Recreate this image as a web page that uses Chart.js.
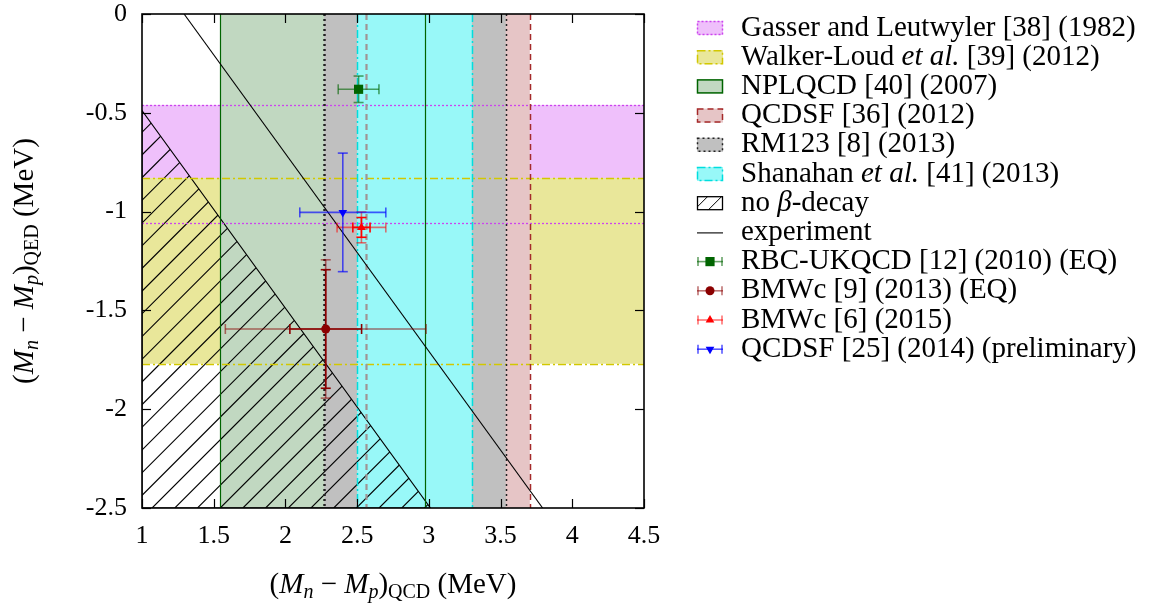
<!DOCTYPE html>
<html>
<head>
<meta charset="utf-8">
<script src="https://cdn.jsdelivr.net/npm/chart.js@4.4.1/dist/chart.umd.min.js"></script>
<style>
  html, body { margin: 0; padding: 0; background: #fff; }
  #wrap { width: 1152px; height: 606px; }
</style>
</head>
<body>
<div id="wrap"><canvas id="plot" width="1152" height="606"></canvas></div>
<script>
// axis ticks
const xTicks = [1, 1.5, 2, 2.5, 3, 3.5, 4, 4.5];
const yTicks = [0, -0.5, -1, -1.5, -2, -2.5];

// horizontal bands, (Mn-Mp)_QED  [top, bottom]
const gasserBand = [-0.46, -1.06];
const walkerBand = [-0.83, -1.77];

// vertical bands, (Mn-Mp)_QCD  [left, right]
const nplqcdBand = [1.546, 2.976];
const qcdsf12Band = [2.562, 3.704];
const rm123Band = [2.27, 3.536];
const shanahanBand = [2.50, 3.30];

// diagonal lines x + y = const
const betaLimit = 0.511;   // below: no beta decay
const expValue = 1.2933;   // experiment

// points: [x, y], errors: [stat, total]
const rbcPoint = [2.51, -0.381];
const rbcXErr = [0.142];
const rbcYErr = [0.067];

const bmw13Point = [2.281, -1.594];
const bmw13XErr = [0.25, 0.70];
const bmw13YErr = [0.30, 0.35];

const bmw15Point = [2.53, -1.08];
const bmw15XErr = [0.06, 0.17];
const bmw15YErr = [0.05, 0.078];

const qcdsf14Point = [2.40, -1.004];
const qcdsf14XErr = [0.30];
const qcdsf14YErr = [0.30];

const legendLabels = [
  [['Gasser and Leutwyler [38] (1982)']],
  [['Walker-Loud '], ['et al.', 1], [' [39] (2012)']],
  [['NPLQCD [40] (2007)']],
  [['QCDSF [36] (2012)']],
  [['RM123 [8] (2013)']],
  [['Shanahan '], ['et al.', 1], [' [41] (2013)']],
  [['no '], ['\u03B2', 1], ['-decay']],
  [['experiment']],
  [['RBC-UKQCD [12] (2010) (EQ)']],
  [['BMWc [9] (2013) (EQ)']],
  [['BMWc [6] (2015)']],
  [['QCDSF [25] (2014) (preliminary)']]
];

const FONT = '"Liberation Serif", "Times New Roman", serif';

const bands = [
  { r: gasserBand, dir: 'h', fill: '#efc0fb', line: '#cc44ee', dash: [2, 2], w: 1.3 },
  { r: walkerBand, dir: 'h', fill: '#e9e79a', line: '#d2c800', dash: [8, 3, 2, 3], w: 1.5 },
  { r: nplqcdBand, dir: 'v', fill: '#c1d8c1', line: '#006400', dash: [], w: 1.2 },
  { r: qcdsf12Band, dir: 'v', fill: '#e6c5c6', line: ['#a09494', '#a52a2a'], dash: [6, 4], w: [2.2, 1.5] },
  { r: rm123Band, dir: 'v', fill: '#c0c0c0', line: '#222', dash: [2, 3], w: [2.5, 1.5] },
  { r: shanahanBand, dir: 'v', fill: '#98f8f8', line: '#00dede', dash: [8, 3, 2, 3], w: 1.5 }
];

const points = [
  { p: rbcPoint, xe: rbcXErr, ye: rbcYErr, color: '#006400', light: 'rgba(0,100,0,0.6)' },
  { p: bmw13Point, xe: bmw13XErr, ye: bmw13YErr, color: '#8b0000', light: 'rgba(139,0,0,0.55)' },
  { p: bmw15Point, xe: bmw15XErr, ye: bmw15YErr, color: '#ff0000', light: 'rgba(255,0,0,0.55)' },
  { p: qcdsf14Point, xe: qcdsf14XErr, ye: qcdsf14YErr, color: '#0000ff', light: 'rgba(0,0,255,0.65)' }
];

function hLine(ctx, x1, x2, y) { ctx.beginPath(); ctx.moveTo(x1, y); ctx.lineTo(x2, y); ctx.stroke(); }
function vLine(ctx, x, y1, y2) { ctx.beginPath(); ctx.moveTo(x, y1); ctx.lineTo(x, y2); ctx.stroke(); }

function drawErrors(ctx, xs, ys, pt) {
  const cx = xs.getPixelForValue(pt.p[0]);
  const cy = ys.getPixelForValue(pt.p[1]);
  const cap = 5;
  ctx.setLineDash([]);
  ctx.lineWidth = 1.6;
  // total (lighter) first, then stat on top
  const order = pt.xe.length > 1 ? [1, 0] : [0];
  order.forEach(i => {
    ctx.strokeStyle = (pt.xe.length > 1 && i === 0) ? pt.color : pt.light;
    const xl = xs.getPixelForValue(pt.p[0] - pt.xe[i]);
    const xr = xs.getPixelForValue(pt.p[0] + pt.xe[i]);
    const yt = ys.getPixelForValue(pt.p[1] + pt.ye[i]);
    const yb = ys.getPixelForValue(pt.p[1] - pt.ye[i]);
    hLine(ctx, xl, xr, cy);
    vLine(ctx, cx, yt, yb);
    vLine(ctx, xl, cy - cap, cy + cap);
    vLine(ctx, xr, cy - cap, cy + cap);
    hLine(ctx, cx - cap, cx + cap, yt);
    hLine(ctx, cx - cap, cx + cap, yb);
  });
}

const bgPlugin = {
  id: 'bg',
  beforeDatasetsDraw(chart) {
    const ctx = chart.ctx;
    const a = chart.chartArea;
    const xs = chart.scales.x, ys = chart.scales.y;
    ctx.save();
    ctx.beginPath();
    ctx.rect(a.left, a.top, a.right - a.left, a.bottom - a.top);
    ctx.clip();

    // fills
    bands.forEach(b => {
      ctx.fillStyle = b.fill;
      if (b.dir === 'h') {
        const y1 = ys.getPixelForValue(b.r[0]), y2 = ys.getPixelForValue(b.r[1]);
        ctx.fillRect(a.left, y1, a.right - a.left, y2 - y1);
      } else {
        const x1 = xs.getPixelForValue(b.r[0]), x2 = xs.getPixelForValue(b.r[1]);
        ctx.fillRect(x1, a.top, x2 - x1, a.bottom - a.top);
      }
    });

    // hatched no-beta-decay region
    ctx.save();
    ctx.beginPath();
    ctx.moveTo(xs.getPixelForValue(1), ys.getPixelForValue(betaLimit - 1));
    ctx.lineTo(xs.getPixelForValue(betaLimit + 2.5), ys.getPixelForValue(-2.5));
    ctx.lineTo(xs.getPixelForValue(1), ys.getPixelForValue(-2.5));
    ctx.closePath();
    ctx.strokeStyle = '#000';
    ctx.lineWidth = 1.1;
    ctx.stroke();
    ctx.clip();
    const H = a.bottom - a.top;
    for (let x0 = a.left + 4.7 - H; x0 < a.right; x0 += 22.7) {
      ctx.beginPath();
      ctx.moveTo(x0, a.bottom);
      ctx.lineTo(x0 + H, a.top);
      ctx.stroke();
    }
    ctx.restore();

    // band borders
    bands.forEach(b => {
      ctx.setLineDash(b.dash);
      [0, 1].forEach(i => {
        ctx.strokeStyle = Array.isArray(b.line) ? b.line[i] : b.line;
        ctx.lineWidth = Array.isArray(b.w) ? b.w[i] : b.w;
        if (b.dir === 'h') {
          hLine(ctx, a.left, a.right, Math.round(ys.getPixelForValue(b.r[i])) + 0.5);
        } else {
          vLine(ctx, Math.round(xs.getPixelForValue(b.r[i])) + 0.5, a.top, a.bottom);
        }
      });
    });
    ctx.setLineDash([]);

    // experiment line
    ctx.strokeStyle = '#000';
    ctx.lineWidth = 1.1;
    ctx.beginPath();
    ctx.moveTo(xs.getPixelForValue(expValue), ys.getPixelForValue(0));
    ctx.lineTo(xs.getPixelForValue(expValue + 2.5), ys.getPixelForValue(-2.5));
    ctx.stroke();

    points.forEach(pt => drawErrors(ctx, xs, ys, pt));
    ctx.restore();
  },
  afterDraw(chart) {
    const ctx = chart.ctx;
    const a = chart.chartArea;
    const xs = chart.scales.x, ys = chart.scales.y;
    ctx.save();
    // ticks inside on all sides
    ctx.strokeStyle = '#000';
    ctx.lineWidth = 1.2;
    xTicks.forEach(v => {
      const x = Math.round(xs.getPixelForValue(v)) + 0.5;
      vLine(ctx, x, a.bottom, a.bottom - 9);
      vLine(ctx, x, a.top, a.top + 9);
    });
    yTicks.forEach(v => {
      const y = Math.round(ys.getPixelForValue(v)) + 0.5;
      hLine(ctx, a.left, a.left + 9, y);
      hLine(ctx, a.right, a.right - 9, y);
    });
    // frame
    ctx.lineWidth = 1.6;
    ctx.strokeRect(a.left, a.top, a.right - a.left, a.bottom - a.top);

    // axis titles
    const title = (sub) => [['('], ['M', 1], ['n', 1, 1], [' \u2212 '], ['M', 1], ['p', 1, 1], [')'], [sub, 0, 1], [' (MeV)']];
    drawRich(ctx, title('QCD'), (a.left + a.right) / 2, 585, true);
    ctx.save();
    ctx.translate(25, (a.top + a.bottom) / 2);
    ctx.rotate(-Math.PI / 2);
    drawRich(ctx, title('QED'), 0, 0, true);
    ctx.restore();

    // legend
    legendLabels.forEach((segs, i) => {
      const y = 28 + 29.2 * i;
      drawSample(chart, i, 697, 723, y);
      drawRich(ctx, segs, 741, y, false);
    });
    ctx.restore();
  }
};

function segFont(s) {
  return (s[1] ? 'italic ' : '') + (s[2] ? '20px ' : '29px ') + FONT;
}

function drawRich(ctx, segs, x, y, center) {
  ctx.textBaseline = 'middle';
  ctx.textAlign = 'left';
  ctx.fillStyle = '#000';
  let total = 0;
  segs.forEach(s => { ctx.font = segFont(s); total += ctx.measureText(s[0]).width; });
  let cx = center ? x - total / 2 : x;
  segs.forEach(s => {
    ctx.font = segFont(s);
    ctx.fillText(s[0], cx, s[2] ? y + 8 : y);
    cx += ctx.measureText(s[0]).width;
  });
}

function drawSample(chart, i, x1, x2, y) {
  const ctx = chart.ctx;
  ctx.save();
  if (i < 6) {
    const b = bands[i];
    ctx.fillStyle = b.fill;
    ctx.fillRect(x1, y - 7, x2 - x1, 14);
    ctx.strokeStyle = Array.isArray(b.line) ? b.line[1] : b.line;
    ctx.lineWidth = 1.5;
    ctx.setLineDash(b.dash);
    ctx.strokeRect(x1 + 0.5, y - 6.5, x2 - x1 - 1, 13);
  } else if (i === 6) {
    ctx.strokeStyle = '#000';
    ctx.lineWidth = 1.3;
    ctx.strokeRect(x1 + 0.5, y - 6.5, x2 - x1 - 1, 13);
    ctx.beginPath();
    ctx.rect(x1, y - 7, x2 - x1, 14);
    ctx.clip();
    ctx.lineWidth = 1;
    [x1 - 3, x1 + 11].forEach(x0 => { ctx.beginPath(); ctx.moveTo(x0, y + 7); ctx.lineTo(x0 + 14, y - 7); ctx.stroke(); });
  } else if (i === 7) {
    ctx.strokeStyle = '#000';
    ctx.lineWidth = 1.1;
    hLine(ctx, x1, x2, y + 0.5);
  } else {
    const pt = points[i - 8];
    ctx.strokeStyle = pt.light;
    ctx.lineWidth = 1.6;
    hLine(ctx, x1, x2, y);
    vLine(ctx, x1 + 1, y - 4.5, y + 4.5);
    vLine(ctx, x2 - 1, y - 4.5, y + 4.5);
    const ds = chart.data.datasets[i - 8];
    ctx.fillStyle = pt.color;
    Chart.helpers.drawPoint(ctx, {
      pointStyle: ds.pointStyle, radius: ds.pointRadius, rotation: ds.pointRotation || 0, borderWidth: 0
    }, (x1 + x2) / 2, y);
  }
  ctx.restore();
}

const xy = (p) => [{ x: p[0], y: p[1] }];

const chart = new Chart(document.getElementById('plot').getContext('2d'), {
  type: 'scatter',
  data: {
    datasets: [
      { data: xy(rbcPoint), pointStyle: 'rect', pointRadius: 6.5, backgroundColor: '#006400', borderWidth: 0 },
      { data: xy(bmw13Point), pointStyle: 'circle', pointRadius: 4.5, backgroundColor: '#8b0000', borderWidth: 0 },
      { data: xy(bmw15Point), pointStyle: 'triangle', pointRadius: 5, backgroundColor: '#ff0000', borderWidth: 0 },
      { data: xy(qcdsf14Point), pointStyle: 'triangle', pointRotation: 180, pointRadius: 5, backgroundColor: '#0000ff', borderWidth: 0 }
    ]
  },
  options: {
    responsive: false,
    animation: false,
    layout: { padding: { top: 0, right: 508, left: 0, bottom: 0 } },
    plugins: { legend: { display: false }, tooltip: { enabled: false } },
    scales: {
      x: {
        type: 'linear', min: 1, max: 4.5,
        afterBuildTicks: (s) => { s.ticks = xTicks.map(v => ({ value: v })); },
        afterFit: (s) => { s.height = 98; },
        grid: { display: false, drawTicks: false },
        border: { display: false },
        ticks: { color: '#000', padding: 13, maxRotation: 0, font: { family: FONT, size: 26 }, callback: (v) => String(v) }
      },
      y: {
        type: 'linear', min: -2.5, max: 0,
        afterBuildTicks: (s) => { s.ticks = yTicks.map(v => ({ value: v })); },
        afterFit: (s) => { s.width = 142; s.paddingTop = 14; s.paddingBottom = 0; },
        grid: { display: false, drawTicks: false },
        border: { display: false },
        ticks: { color: '#000', padding: 15, font: { family: FONT, size: 26 }, callback: (v) => String(v) }
      }
    }
  },
  plugins: [bgPlugin]
});
</script>
</body>
</html>
